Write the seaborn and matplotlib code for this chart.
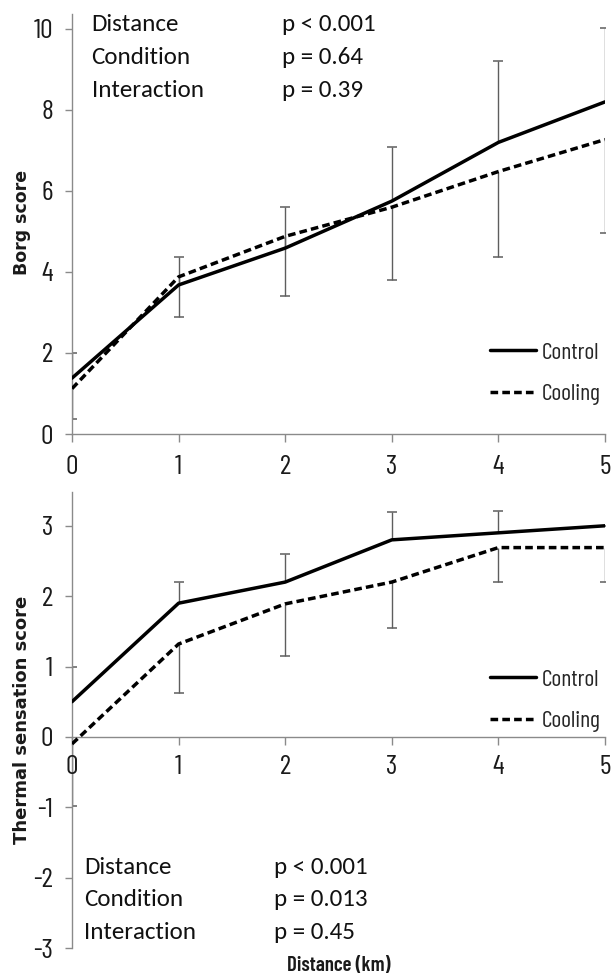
import numpy as np
import pandas as pd
import matplotlib
matplotlib.use('Agg')
import matplotlib.pyplot as plt
import matplotlib.transforms as mtransforms
import seaborn as sns
from matplotlib.lines import Line2D

# ---------------- data ----------------
distance = [0, 1, 2, 3, 4, 5]
distance_labels = ['0', '1', '2', '3', '4', '5']
conditions = ['Control', 'Cooling']

borg_control = [1.38, 3.68, 4.59, 5.75, 7.20, 8.20]
borg_cooling = [1.12, 3.88, 4.88, 5.60, 6.48, 7.27]
borg_control_err_up = [0.62, 0.69, 1.02, 1.34, 2.00, 1.82]
borg_cooling_err_down = [0.76, 0.98, 1.47, 1.80, 2.11, 2.31]

ts_control = [0.50, 1.90, 2.20, 2.80, 2.90, 3.00]
ts_cooling = [-0.10, 1.32, 1.89, 2.20, 2.69, 2.69]
ts_control_err_up = [0.50, 0.30, 0.40, 0.40, 0.31, 0.00]
ts_cooling_err_down = [0.88, 0.70, 0.74, 0.65, 0.49, 0.49]

borg_yticks = [0, 2, 4, 6, 8, 10]
ts_yticks = [-3, -2, -1, 0, 1, 2, 3]

borg_stats = [('Distance', 'p < 0.001'), ('Condition', 'p = 0.64'), ('Interaction', 'p = 0.39')]
ts_stats = [('Distance', 'p < 0.001'), ('Condition', 'p = 0.013'), ('Interaction', 'p = 0.45')]

# ---------------- style ----------------
NARROW = ['Barlow Condensed', 'Archivo Narrow', 'DejaVu Sans']
SANS = ['Carlito', 'Open Sans', 'DejaVu Sans']
AXCOL = '#8a8a8a'
ERRCOL = '#5e5e5e'
TXTCOL = '#1a1a1a'
TICKSIZE = 20

sns.set_style('white')
plt.rcParams.update({
    'font.family': NARROW,
    'axes.unicode_minus': False,
    'xtick.labelsize': TICKSIZE,
    'ytick.labelsize': TICKSIZE,
    'xtick.color': AXCOL,
    'ytick.color': AXCOL,
    'xtick.labelcolor': TXTCOL,
    'ytick.labelcolor': TXTCOL,
    'xtick.major.size': 6,
    'ytick.major.size': 5,
    'xtick.major.width': 1.0,
    'ytick.major.width': 1.0,
    'ytick.major.pad': 8.5,
    'xtick.direction': 'out',
    'ytick.direction': 'out',
    'xtick.bottom': True,
    'ytick.left': True,
})

DASH = (2.2, 1.2)
LW = 2.5

W, H = 613, 976
fig = plt.figure(figsize=(W / 100, H / 100), dpi=100)


def rect(l, r, t, b):
    return [l / W, 1 - b / H, (r - l) / W, (b - t) / H]


ax1 = fig.add_axes(rect(72, 605, 14, 434))
ax2 = fig.add_axes(rect(72, 605, 492, 948))


def draw(ax, ctrl, cool, ctrl_up, cool_down):
    ctrl = np.array(ctrl); cool = np.array(cool)
    ctrl_up = np.array(ctrl_up); cool_down = np.array(cool_down)
    z = np.zeros(len(distance))
    ax.errorbar(distance, ctrl, yerr=[z, ctrl_up], fmt='none', ecolor=ERRCOL,
                elinewidth=1.0, capsize=0, zorder=2)
    ax.plot(distance, ctrl + ctrl_up, ls='none', marker='_', ms=6.5, mew=1.1,
            color=ERRCOL, zorder=2)
    ax.errorbar(distance, cool, yerr=[cool_down, z], fmt='none', ecolor=ERRCOL,
                elinewidth=1.0, capsize=0, zorder=2)
    ax.plot(distance, cool - cool_down, ls='none', marker='_', ms=6.5, mew=1.1,
            color=ERRCOL, zorder=2)
    df = pd.DataFrame({
        'Distance': distance * 2,
        'Score': list(ctrl) + list(cool),
        'Condition': [conditions[0]] * len(distance) + [conditions[1]] * len(distance),
    })
    sns.lineplot(data=df, x='Distance', y='Score', style='Condition',
                 dashes={'Control': '', 'Cooling': DASH}, color='black',
                 lw=LW, ax=ax, legend=False, zorder=3)


draw(ax1, borg_control, borg_cooling, borg_control_err_up, borg_cooling_err_down)
draw(ax2, ts_control, ts_cooling, ts_control_err_up, ts_cooling_err_down)

ax1.set_ylim(0, 10.37)
ax1.set_yticks(borg_yticks)
ax2.set_ylim(-3, 3.48)
ax2.set_yticks(ts_yticks)
ax2.spines['bottom'].set_position(('data', 0))

# x tick labels as baseline-anchored figure text (pixel baselines measured on the reference)
xlab_baseline = {ax1: 474, ax2: 774}
for ax in (ax1, ax2):
    ax.set_xlim(0, 5)
    ax.set_xticks(distance)
    ax.tick_params(axis='x', labelbottom=False)
    ax.set_xlabel('')
    ax.set_ylabel('')
    for s in ('top', 'right'):
        ax.spines[s].set_visible(False)
    for s in ('left', 'bottom'):
        ax.spines[s].set_color(AXCOL)
        ax.spines[s].set_linewidth(1.0)
    ax.patch.set_alpha(0)
    trans = mtransforms.blended_transform_factory(ax.transData, fig.transFigure)
    for xv, lab in zip(distance, distance_labels):
        fig.text(xv, 1 - xlab_baseline[ax] / H, lab, transform=trans, ha='center',
                 va='baseline', fontsize=TICKSIZE, family=NARROW, color=TXTCOL)

leg_top = {ax1: 342, ax2: 669}
for ax in (ax1, ax2):
    handles = [Line2D([], [], color='black', lw=LW),
               Line2D([], [], color='black', lw=LW, ls=(0, DASH))]
    ax.legend(handles, conditions, loc='upper left',
              bbox_to_anchor=(490 / W, 1 - leg_top[ax] / H),
              bbox_transform=fig.transFigure, frameon=False, borderpad=0,
              borderaxespad=0, handlelength=1.95, handletextpad=0.25,
              labelspacing=0.85, prop={'family': NARROW, 'size': 17})

# axis titles
fig.text(22 / W, 1 - 222 / H, 'Borg score', rotation=90, ha='center', va='center',
         fontsize=12.5, fontweight='bold', family='DejaVu Sans', color=TXTCOL)
fig.text(22 / W, 1 - 720 / H, 'Thermal sensation score', rotation=90, ha='center',
         va='center', fontsize=13, fontweight='bold', family='DejaVu Sans', color=TXTCOL)
fig.text(339 / W, 1 - 971 / H, 'Distance (km)', ha='center', va='baseline',
         fontsize=15, fontweight='semibold', family=NARROW, color=TXTCOL)

# statistics annotations
for i, (name, p) in enumerate(borg_stats):
    y = 31 + i * 32.8
    fig.text(91.5 / W, 1 - y / H, name, fontsize=18, family=SANS,
             va='baseline', color='#111111')
    fig.text(282 / W, 1 - y / H, p, fontsize=18, family=SANS,
             va='baseline', color='#111111')
for i, (name, p) in enumerate(ts_stats):
    y = 874 + i * 32.5
    fig.text(84 / W, 1 - y / H, name, fontsize=18, family=SANS,
             va='baseline', color='#111111')
    fig.text(274 / W, 1 - y / H, p, fontsize=18, family=SANS,
             va='baseline', color='#111111')

fig.savefig('out.png', dpi=100)
